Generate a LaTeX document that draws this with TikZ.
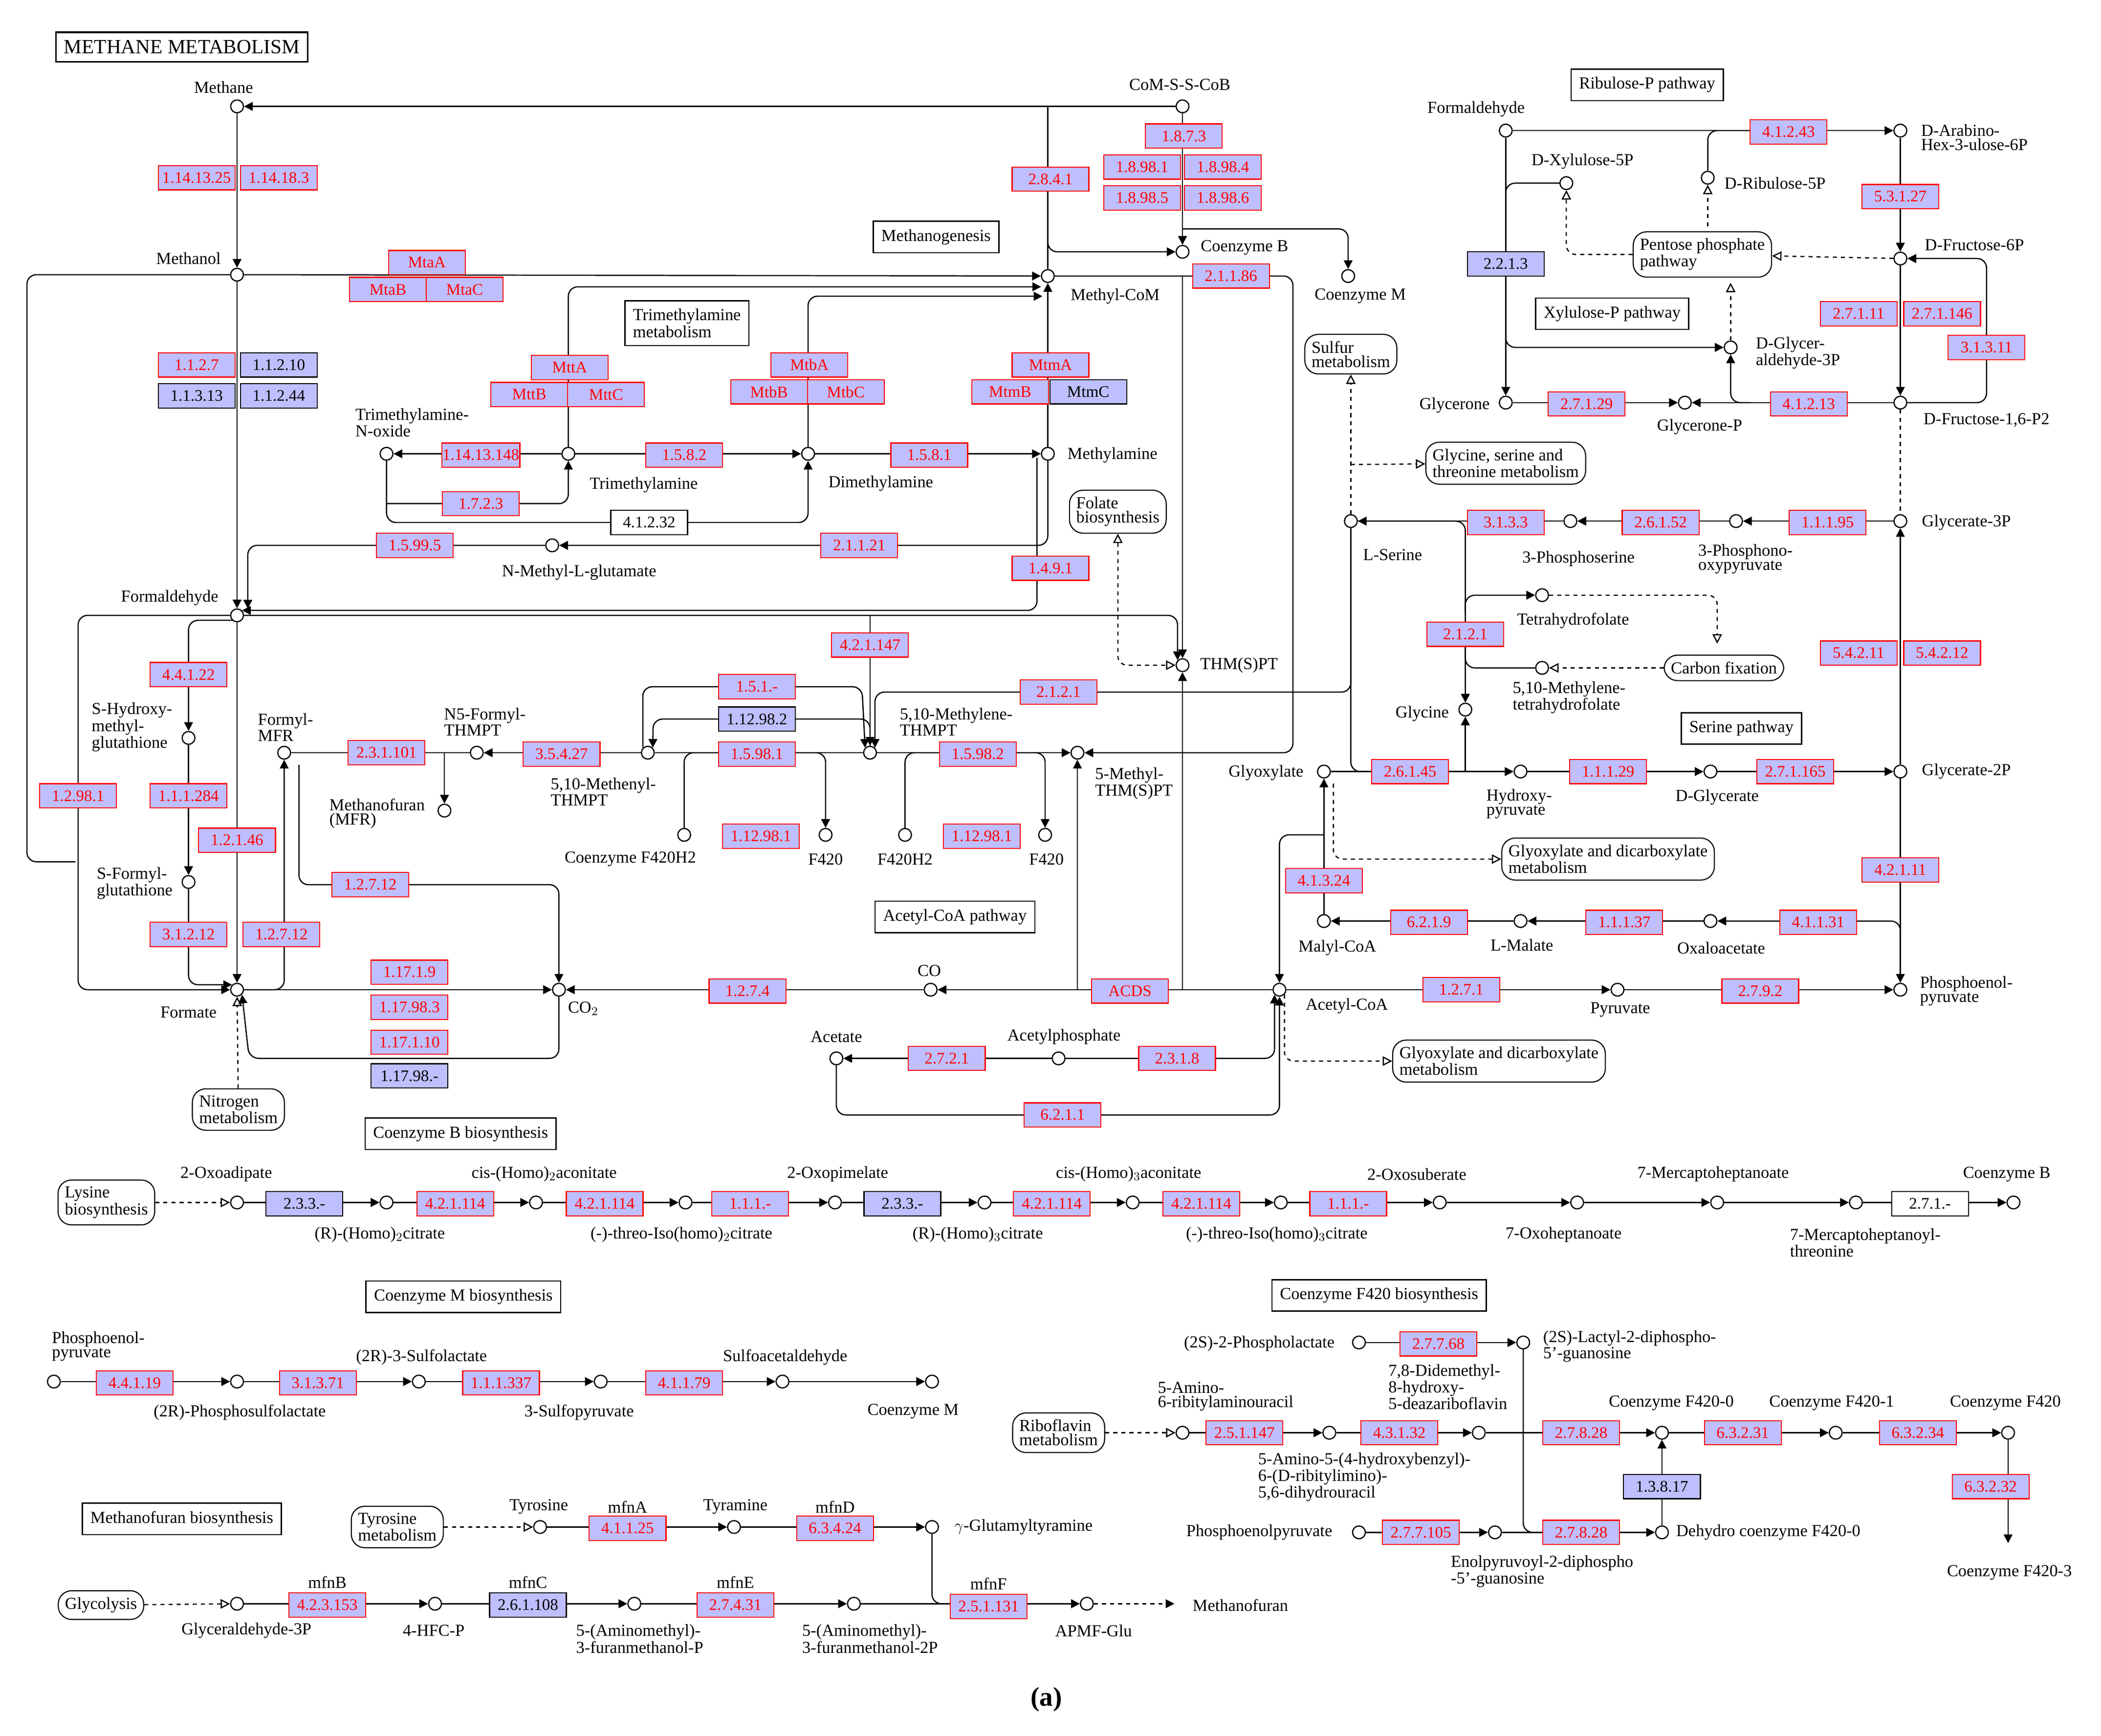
\documentclass[tikz,border=0pt]{standalone}
\usepackage{fontspec}
\setmainfont{Liberation Serif}
\usetikzlibrary{arrows.meta,shapes.misc}
\definecolor{ecf}{RGB}{191,191,255}
\definecolor{ecr}{RGB}{255,0,0}
\newcommand\E[4][ec]{\node[#1] at (#2,#3) {#4};}
\newcommand\Lb[3]{\node[lb] at (#1,#2) {#3};}
\newcommand\cpd[3]{\node[cp] (#1) at (#2,#3) {};}
\begin{document}
\begin{tikzpicture}[x=1pt,y=-1pt,
 font=\fontsize{12.5}{13}\selectfont,
 >={Triangle[length=6.5pt,width=6.5pt]},
 cp/.style={circle,draw,fill=white,inner sep=0,minimum size=9.5pt,line width=0.9pt},
 ec/.style={draw=ecr,fill=ecf,text=ecr,minimum width=57pt,minimum height=18pt,inner sep=0.5pt,line width=0.8pt,font=\fontsize{12}{12}\selectfont},
 eb/.style={ec,draw=black,text=black},
 ew/.style={ec,draw=black,fill=white,text=black},
 lb/.style={inner sep=0,align=left,font=\fontsize{12.5}{10.5}\selectfont},
 mp/.style={draw,rounded corners=10pt,align=left,inner sep=5pt,font=\fontsize{12.5}{10.5}\selectfont,line width=0.8pt,fill=white},
 tb/.style={draw,inner sep=6pt,line width=0.9pt,fill=white},
 ln/.style={line width=0.9pt,rounded corners=7pt},
 dl/.style={line width=0.9pt,rounded corners=7pt,dashed,-{Triangle[open,length=7pt,width=7pt]}}]
\useasboundingbox (0,0) rectangle (1560,1289);

% ---------- title / text boxes
\node[tb,font=\fontsize{15}{15}\selectfont,line width=1.2pt] (title) at (135,35) {METHANE METABOLISM};
\node[tb] (t1) at (1223,63) {Ribulose-P pathway};
\node[tb] (t2) at (695,176) {Methanogenesis};
\node[tb,align=left,font=\fontsize{12.5}{10.5}\selectfont] (t3) at (510,240) {Trimethylamine\\metabolism};
\node[tb] (t4) at (1197,233) {Xylulose-P pathway};
\node[tb] (t5) at (1293,541) {Serine pathway};
\node[tb] (t6) at (709,681) {Acetyl-CoA pathway};
\node[tb] (t7) at (342,842) {Coenzyme B biosynthesis};
\node[tb] (t8) at (344,963) {Coenzyme M biosynthesis};
\node[tb] (t9) at (1024,962) {Coenzyme F420 biosynthesis};
\node[tb] (t10) at (135,1128) {Methanofuran biosynthesis};

% ---------- map boxes
\node[mp] (sulf) at (1003,263) {Sulfur\\metabolism};
\node[mp] (gsm) at (1118,344) {Glycine, serine and\\threonine metabolism};
\node[mp] (fol) at (830,380) {Folate\\biosynthesis};
\node[mp] (cf) at (1280,496) {Carbon fixation};
\node[mp] (gd1) at (1194,638) {Glyoxylate and dicarboxylate\\metabolism};
\node[mp] (gd2) at (1113,788) {Glyoxylate and dicarboxylate\\metabolism};
\node[mp] (pp) at (1264,189) {Pentose phosphate\\pathway};
\node[mp] (nit) at (177,824) {Nitrogen\\metabolism};
\node[mp] (lys) at (79,893) {Lysine\\biosynthesis};
\node[mp] (ribo) at (786,1064) {Riboflavin\\metabolism};
\node[mp] (tyr) at (295,1134) {Tyrosine\\metabolism};
\node[mp] (glyc) at (75,1192) {Glycolysis};

% ---------- compounds (main)
\cpd{me}{176}{79}\cpd{moh}{176}{204}\cpd{fa}{176}{457}\cpd{fo}{176}{735}
\cpd{cms}{878}{79}\cpd{cob}{878}{187}\cpd{com}{1001}{205}\cpd{mcom}{778}{205}
\cpd{mam}{778}{337}\cpd{dma}{600}{337}\cpd{tma}{422}{337}\cpd{tmao}{287}{337}
\cpd{nmg}{410}{405}\cpd{thm}{878}{494}\cpd{mthm}{800}{559}\cpd{mlthm}{646}{559}
\cpd{mnthm}{481}{559}\cpd{nf}{354}{559}\cpd{fmfr}{211}{559}\cpd{mfr}{330}{602}
\cpd{co2}{415}{735}\cpd{co}{691}{735}\cpd{acoa}{950}{735}\cpd{acp}{786}{786}\cpd{ac}{621}{786}
\cpd{shg}{140}{548}\cpd{sfg}{140}{655}
\cpd{f1}{508}{620}\cpd{f2}{613}{620}\cpd{f3}{672}{620}\cpd{f4}{776}{620}
\cpd{fa2}{1118}{97}\cpd{xu5}{1163}{136}\cpd{ru5}{1268}{132}\cpd{ahu}{1411}{97}
\cpd{f6p}{1411}{192}\cpd{ga3}{1285}{258}\cpd{gn}{1118}{299}\cpd{gnp}{1251}{299}
\cpd{fbp}{1411}{299}\cpd{g3p}{1411}{387}\cpd{ppy}{1289}{387}\cpd{pser}{1166}{387}
\cpd{ser}{1003}{387}\cpd{thf}{1145}{442}\cpd{mthf}{1145}{496}\cpd{gly}{1088}{527}
\cpd{glx}{983}{573}\cpd{hpy}{1129}{573}\cpd{dgl}{1270}{573}\cpd{g2p}{1411}{573}
\cpd{mal}{983}{684}\cpd{lmal}{1129}{684}\cpd{oaa}{1270}{684}\cpd{pep}{1411}{735}\cpd{pyr}{1201}{735}

% ---------- edges (main, left/center)
\draw[ln,->] (me) -- (moh);
\draw[ln,->] (moh) -- (fa);
\draw[ln,->] (fa) -- (fo);
\draw[ln,->] (moh) -- (mcom);
\draw[ln,->] (cms) -- (me);
\draw[ln] (mcom) -- (778,79);
\draw[ln,->] (778,100) |- (cob);
\draw[ln,->] (cms) -- (cob);
\draw[ln,->] (878,170) -| (com);
\draw[ln,->] (mcom) -| (960,540) |- (mthm);
\draw[ln,->] (878,205) -- (thm);
\draw[ln,->] (tma) -- (tmao);
\draw[ln,->] (tma) -- (dma);
\draw[ln,->] (dma) -- (mam);
\draw[ln,->] (mam) -- (mcom);
\draw[ln,->] (tma) |- (773,213);
\draw[ln,->] (dma) |- (774,220);
\draw[ln,->] (tmao) -- (287,388) -| (dma);
\draw[ln,->] (287,374) -| (tma);
\draw[ln,->] (mam) |- (nmg);
\draw[ln,->] (nmg) -| (184,452);
\draw[ln,->] (770,340) |- (fa.north east);
\draw[ln,->] (fa) -| (thm.north west);
\draw[ln,->] (646,457) -- (mlthm);
\draw[ln,->] (ser) -- (1003,514) -| (mlthm.north east);
\draw[ln,->] (mnthm.north west) |- (640,510) -- (mlthm.north west);
\draw[ln,->] (mlthm.north) |- (485,534) -- (mnthm.north east);
\draw[ln] (mnthm) -- (mlthm);
\draw[ln] (f1) |- (540,559);
\draw[ln,->] (590,559) -| (f2);
\draw[ln,->] (mlthm) -- (mthm);
\draw[ln] (f3) |- (705,559);
\draw[ln,->] (750,559) -| (f4);
\draw[ln,->] (mnthm) -- (nf);
\draw[ln] (nf) -- (fmfr);
\draw[ln,->] (330,559) -- (mfr);
\draw[ln,->] (222,568) -- (222,657) -| (co2);
\draw[ln,->] (fo) -| (fmfr);
\draw[ln,->] (fo) -- (co2);
\draw[ln,->] (co2) |- (185,786) -- (fo.south east);
\draw[ln,->] (co) -- (co2);
\draw[ln,->] (acoa) -- (co);
\draw[ln,->] (878,735) -- (thm);
\draw[ln,->] (800,735) -- (mthm);
\draw[ln,->] (acp) -- (ac);
\draw[ln,->] (acp) -| (acoa.south west);
\draw[ln,->] (ac) |- (950,828) -- (acoa.south);
\draw[ln,->] (acoa) -- (pyr);
\draw[ln,->] (pyr) -- (pep);
\draw[ln,->] (fa.south west) -| (shg);
\draw[ln,->] (shg) -- (sfg);
\draw[ln,->] (sfg) |- (fo.north west);
\draw[ln,->] (fa.west) -| (58,735) -- (fo.west);
\draw[ln] (moh) -| (20,640) -- (56,640);
\draw[dl] (nit) -- (fo);
\draw[line width=0.9pt,rounded corners=7pt,dashed,{Triangle[open,length=7pt,width=7pt]}-{Triangle[open,length=7pt,width=7pt]}] (fol) |- (thm);

% ---------- edges right
\draw[ln,->] (fa2) -- (ahu);
\draw[ln] (1300,97) -| (ru5);
\draw[ln,->] (fa2) -- (gn);
\draw[ln] (xu5) -| (1118,160);
\draw[ln,->] (1118,240) |- (ga3);
\draw[ln,->] (ahu) -- (f6p);
\draw[ln,->] (f6p) -- (fbp);
\draw[ln,->] (fbp) -| (1475,192) -- (f6p);
\draw[ln,->] (gn) -- (gnp);
\draw[ln,->] (fbp) -- (gnp);
\draw[ln,->] (1300,299) -| (ga3);
\draw[dl] (f6p) -- (pp);
\draw[dl] (pp) -| (xu5);
\draw[dl] (1268,168) -- (ru5);
\draw[dl] (ga3) -- (1285,210);
\draw[ln,dashed] (fbp) -- (g3p);
\draw[ln,->] (g3p) -- (ppy);
\draw[ln,->] (ppy) -- (pser);
\draw[ln,->] (pser) -- (ser);
\draw[dl] (ser) -- (sulf);
\draw[dl] (1003,345) -- (gsm);
\draw[ln,->] (ser) -| (gly);
\draw[ln,->] (1088,455) |- (thf);
\draw[ln] (1088,480) |- (mthf);
\draw[dl] (thf) -| (1275,478);
\draw[dl] (cf) -- (mthf);
\draw[ln] (ser) |- (1020,573);
\draw[ln,->] (1088,573) -- (gly);
\draw[ln,->] (glx) -- (hpy);
\draw[ln,->] (hpy) -- (dgl);
\draw[ln,->] (dgl) -- (g2p);
\draw[ln,->] (g2p) -- (g3p);
\draw[ln,->] (g2p) -- (pep);
\draw[dl] (990,582) |- (gd1);
\draw[ln,->] (mal) -- (glx);
\draw[ln,->] (983,620) -| (acoa);
\draw[ln,->] (lmal) -- (mal);
\draw[ln,->] (oaa) -- (lmal);
\draw[ln,->] (1411,705) |- (oaa);
\draw[dl] (acoa.south east) |- (gd2);

% ---------- compound labels
\Lb{166}{65}{Methane}\Lb{140}{192}{Methanol}\Lb{126}{444}{Formaldehyde}\Lb{140}{752}{Formate}
\Lb{876}{63}{CoM-S-S-CoB}\Lb{924}{184}{Coenzyme B}\Lb{1010}{220}{Coenzyme M}\Lb{828}{220}{Methyl-CoM}
\Lb{826}{338}{Methylamine}\Lb{654}{359}{Dimethylamine}\Lb{478}{360}{Trimethylamine}
\Lb{306}{314}{Trimethylamine-\\N-oxide}\Lb{430}{425}{N-Methyl-L-glutamate}
\Lb{920}{494}{THM(S)PT}\Lb{842}{582}{5-Methyl-\\THM(S)PT}\Lb{710}{536}{5,10-Methylene-\\THMPT}
\Lb{448}{588}{5,10-Methenyl-\\THMPT}\Lb{360}{536}{N5-Formyl-\\THMPT}\Lb{212}{540}{Formyl-\\MFR}
\Lb{280}{604}{Methanofuran\\(MFR)}\Lb{433}{749}{CO$_2$}\Lb{690}{721}{CO}\Lb{1000}{747}{Acetyl-CoA}
\Lb{790}{770}{Acetylphosphate}\Lb{621}{770}{Acetate}
\Lb{98}{540}{S-Hydroxy-\\methyl-\\glutathione}\Lb{100}{656}{S-Formyl-\\glutathione}
\Lb{468}{638}{Coenzyme F420H2}\Lb{613}{638}{F420}\Lb{672}{638}{F420H2}\Lb{777}{638}{F420}
\Lb{1096}{81}{Formaldehyde}\Lb{1175}{120}{D-Xylulose-5P}\Lb{1318}{136}{D-Ribulose-5P}
\Lb{1466}{102}{D-Arabino-\\Hex-3-ulose-6P}\Lb{1466}{182}{D-Fructose-6P}
\Lb{1335}{262}{D-Glycer-\\aldehyde-3P}\Lb{1080}{301}{Glycerone}\Lb{1262}{317}{Glycerone-P}
\Lb{1475}{312}{D-Fructose-1,6-P2}\Lb{1460}{388}{Glycerate-3P}\Lb{1296}{415}{3-Phosphono-\\oxypyruvate}
\Lb{1172}{415}{3-Phosphoserine}\Lb{1034}{412}{L-Serine}\Lb{1168}{461}{Tetrahydrofolate}
\Lb{1165}{518}{5,10-Methylene-\\tetrahydrofolate}\Lb{1056}{530}{Glycine}\Lb{940}{574}{Glyoxylate}
\Lb{1128}{597}{Hydroxy-\\pyruvate}\Lb{1275}{592}{D-Glycerate}\Lb{1460}{573}{Glycerate-2P}
\Lb{993}{704}{Malyl-CoA}\Lb{1130}{702}{L-Malate}\Lb{1278}{704}{Oxaloacetate}
\Lb{1460}{736}{Phosphoenol-\\pyruvate}\Lb{1203}{750}{Pyruvate}

% ---------- enzymes main
\E{146}{132}{1.14.13.25}\E{207}{132}{1.14.18.3}
\E{317}{195}{MtaA}\E{288}{215}{MtaB}\E{345}{215}{MtaC}
\E{146}{271}{1.1.2.7}\E[eb]{207}{271}{1.1.2.10}\E[eb]{146}{294}{1.1.3.13}\E[eb]{207}{294}{1.1.2.44}
\E{423}{273}{MttA}\E{393}{293}{MttB}\E{450}{293}{MttC}
\E{601}{271}{MtbA}\E{571}{291}{MtbB}\E{628}{291}{MtbC}
\E{780}{271}{MtmA}\E{750}{291}{MtmB}\E[eb]{808}{291}{MtmC}
\E{879}{101}{1.8.7.3}\E{848}{124}{1.8.98.1}\E{908}{124}{1.8.98.4}\E{848}{147}{1.8.98.5}\E{908}{147}{1.8.98.6}
\E{780}{133}{2.8.4.1}\E{914}{205}{2.1.1.86}
\E{357}{338}{1.14.13.148}\E{508}{338}{1.5.8.2}\E{690}{338}{1.5.8.1}
\E{357}{374}{1.7.2.3}\E[ew]{482}{388}{4.1.2.32}
\E{308}{405}{1.5.99.5}\E{638}{405}{2.1.1.21}\E{780}{422}{1.4.9.1}
\E{646}{479}{4.2.1.147}\E{562}{510}{1.5.1.-}\E[eb]{562}{534}{1.12.98.2}\E{786}{514}{2.1.2.1}
\E{287}{559}{2.3.1.101}\E{417}{560}{3.5.4.27}\E{562}{560}{1.5.98.1}\E{726}{560}{1.5.98.2}
\E{565}{621}{1.12.98.1}\E{729}{621}{1.12.98.1}
\E{140}{501}{4.4.1.22}\E{140}{591}{1.1.1.284}\E{58}{591}{1.2.98.1}\E{176}{624}{1.2.1.46}
\E{275}{657}{1.2.7.12}\E{140}{694}{3.1.2.12}\E{209}{694}{1.2.7.12}
\E{304}{722}{1.17.1.9}\E{304}{748}{1.17.98.3}\E{304}{774}{1.17.1.10}\E[eb]{304}{799}{1.17.98.-}
\E{555}{736}{1.2.7.4}\E{839}{736}{ACDS}
\E{703}{786}{2.7.2.1}\E{874}{786}{2.3.1.8}\E{789}{828}{6.2.1.1}
\E{1328}{98}{4.1.2.43}\E{1411}{146}{5.3.1.27}\E[eb]{1118}{196}{2.2.1.3}
\E{1380}{233}{2.7.1.11}\E{1442}{233}{2.7.1.146}\E{1475}{258}{3.1.3.11}
\E{1178}{300}{2.7.1.29}\E{1343}{300}{4.1.2.13}
\E{1118}{388}{3.1.3.3}\E{1233}{388}{2.6.1.52}\E{1357}{388}{1.1.1.95}
\E{1088}{471}{2.1.2.1}\E{1380}{485}{5.4.2.11}\E{1442}{485}{5.4.2.12}
\E{1047}{573}{2.6.1.45}\E{1194}{573}{1.1.1.29}\E{1333}{573}{2.7.1.165}
\E{983}{654}{4.1.3.24}\E{1061}{685}{6.2.1.9}\E{1206}{685}{1.1.1.37}\E{1350}{685}{4.1.1.31}\E{1411}{646}{4.2.1.11}
\E{1085}{735}{1.2.7.1}\E{1307}{736}{2.7.9.2}

% ---------- Coenzyme B biosynthesis
\cpd{b1}{176}{893}\cpd{b2}{287}{893}\cpd{b3}{398}{893}\cpd{b4}{509}{893}\cpd{b5}{620}{893}
\cpd{b6}{731}{893}\cpd{b7}{841}{893}\cpd{b8}{951}{893}\cpd{b9}{1069}{893}\cpd{b10}{1171}{893}
\cpd{b11}{1275}{893}\cpd{b12}{1378}{893}\cpd{b13}{1495}{893}
\draw[dl] (lys) -- (b1);
\foreach \a/\b in {b1/b2,b2/b3,b3/b4,b4/b5,b5/b6,b6/b7,b7/b8,b8/b9,b9/b10,b10/b11,b11/b12,b12/b13}
  \draw[ln,->] (\a) -- (\b);
\E[eb]{226}{894}{2.3.3.-}\E{338}{894}{4.2.1.114}\E{449}{894}{4.2.1.114}\E{557}{894}{1.1.1.-}
\E[eb]{670}{894}{2.3.3.-}\E{781}{894}{4.2.1.114}\E{892}{894}{4.2.1.114}\E{1001}{894}{1.1.1.-}
\E[ew]{1433}{894}{2.7.1.-}
\Lb{168}{872}{2-Oxoadipate}\Lb{404}{872}{cis-(Homo)$_2$aconitate}\Lb{622}{872}{2-Oxopimelate}
\Lb{838}{872}{cis-(Homo)$_3$aconitate}\Lb{1052}{872}{2-Oxosuberate}\Lb{1272}{872}{7-Mercaptoheptanoate}
\Lb{1490}{872}{Coenzyme B}
\Lb{282}{917}{(R)-(Homo)$_2$citrate}\Lb{506}{917}{(-)-threo-Iso(homo)$_2$citrate}
\Lb{726}{917}{(R)-(Homo)$_3$citrate}\Lb{948}{917}{(-)-threo-Iso(homo)$_3$citrate}
\Lb{1161}{917}{7-Oxoheptanoate}\Lb{1385}{923}{7-Mercaptoheptanoyl-\\threonine}

% ---------- Coenzyme M biosynthesis
\cpd{c1}{40}{1026}\cpd{c2}{176}{1026}\cpd{c3}{311}{1026}\cpd{c4}{446}{1026}\cpd{c5}{581}{1026}\cpd{c6}{692}{1026}
\foreach \a/\b in {c1/c2,c2/c3,c3/c4,c4/c5,c5/c6} \draw[ln,->] (\a) -- (\b);
\E{100}{1027}{4.4.1.19}\E{236}{1027}{3.1.3.71}\E{372}{1027}{1.1.1.337}\E{508}{1027}{4.1.1.79}
\Lb{73}{1000}{Phosphoenol-\\pyruvate}\Lb{178}{1049}{(2R)-Phosphosulfolactate}\Lb{313}{1008}{(2R)-3-Sulfolactate}
\Lb{430}{1049}{3-Sulfopyruvate}\Lb{583}{1008}{Sulfoacetaldehyde}\Lb{678}{1048}{Coenzyme M}

% ---------- Coenzyme F420 biosynthesis
\cpd{d1}{1009}{997}\cpd{d2}{1131}{997}\cpd{d3}{878}{1064}\cpd{d4}{987}{1064}\cpd{d5}{1098}{1064}
\cpd{d6}{1234}{1064}\cpd{d7}{1363}{1064}\cpd{d8}{1491}{1064}\coordinate (d9) at (1491,1146);
\cpd{d10}{1009}{1138}\cpd{d11}{1110}{1138}\cpd{d12}{1234}{1138}
\draw[ln,->] (d1) -- (d2);
\draw[dl] (ribo) -- (d3);
\draw[ln,->] (d3) -- (d4);\draw[ln,->] (d4) -- (d5);\draw[ln,->] (d5) -- (d6);
\draw[ln,->] (d6) -- (d7);\draw[ln,->] (d7) -- (d8);\draw[ln,->] (d8) -- (d9);
\draw[ln] (d2) |- (1160,1138);
\draw[ln,->] (d10) -- (d11);\draw[ln,->] (d11) -- (d12);\draw[ln,->] (d12) -- (d6);
\E{1068}{998}{2.7.7.68}\E{924}{1064}{2.5.1.147}\E{1039}{1064}{4.3.1.32}\E{1174}{1064}{2.7.8.28}
\E{1294}{1064}{6.3.2.31}\E{1424}{1064}{6.3.2.34}\E{1478}{1104}{6.3.2.32}\E[eb]{1234}{1104}{1.3.8.17}
\E{1055}{1138}{2.7.7.105}\E{1174}{1138}{2.7.8.28}
\Lb{935}{998}{(2S)-2-Phospholactate}\Lb{1210}{1000}{(2S)-Lactyl-2-diphospho-\\5'-guanosine}
\Lb{910}{1037}{5-Amino-\\6-ribitylaminouracil}\Lb{1075}{1030}{7,8-Didemethyl-\\8-hydroxy-\\5-deazariboflavin}
\Lb{1013}{1097}{5-Amino-5-(4-hydroxybenzyl)-\\6-(D-ribitylimino)-\\5,6-dihydrouracil}
\Lb{1241}{1042}{Coenzyme F420-0}\Lb{1360}{1042}{Coenzyme F420-1}\Lb{1489}{1042}{Coenzyme F420}
\Lb{1492}{1168}{Coenzyme F420-3}\Lb{935}{1138}{Phosphoenolpyruvate}\Lb{1313}{1138}{Dehydro coenzyme F420-0}
\Lb{1145}{1167}{Enolpyruvoyl-2-diphospho\\-5'-guanosine}

% ---------- Methanofuran biosynthesis
\cpd{m1}{401}{1134}\cpd{m2}{545}{1134}\cpd{m3}{692}{1134}
\cpd{n1}{176}{1191}\cpd{n2}{323}{1191}\cpd{n3}{471}{1191}\cpd{n4}{634}{1191}\cpd{n5}{807}{1191}
\coordinate (mf) at (872,1191);
\draw[dl] (tyr) -- (m1);\draw[ln,->] (m1) -- (m2);\draw[ln,->] (m2) -- (m3);
\draw[dl] (glyc) -- (n1);
\foreach \a/\b in {n1/n2,n2/n3,n3/n4,n4/n5} \draw[ln,->] (\a) -- (\b);
\draw[ln] (m3) |- (705,1191);
\draw[line width=0.9pt,dashed,->] (n5) -- (mf);
\E{466}{1135}{4.1.1.25}\E{620}{1135}{6.3.4.24}\E{243}{1192}{4.2.3.153}\E[eb]{392}{1192}{2.6.1.108}
\E{546}{1192}{2.7.4.31}\E{734}{1193}{2.5.1.131}
\Lb{466}{1119}{mfnA}\Lb{620}{1119}{mfnD}\Lb{243}{1175}{mfnB}\Lb{392}{1175}{mfnC}\Lb{546}{1175}{mfnE}\Lb{734}{1176}{mfnF}
\Lb{400}{1119}{Tyrosine}\Lb{546}{1119}{Tyramine}\Lb{760}{1134}{$\gamma$-Glutamyltyramine}
\Lb{183}{1211}{Glyceraldehyde-3P}\Lb{322}{1211}{4-HFC-P}\Lb{475}{1217}{5-(Aminomethyl)-\\3-furanmethanol-P}
\Lb{646}{1217}{5-(Aminomethyl)-\\3-furanmethanol-2P}\Lb{812}{1211}{APMF-Glu}\Lb{921}{1192}{Methanofuran}

\node[font=\bfseries\fontsize{20}{20}\selectfont] (cap) at (777,1262) {(a)};
\end{tikzpicture}
\end{document}
